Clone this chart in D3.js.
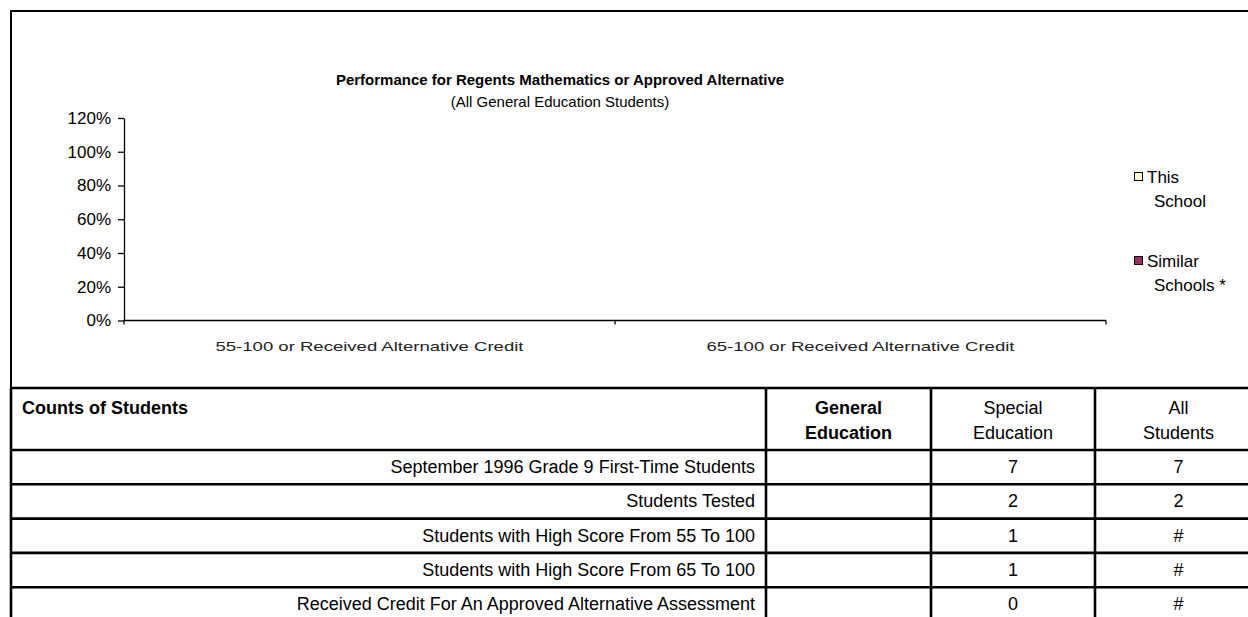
<!DOCTYPE html>
<html>
<head>
<meta charset="utf-8">
<script src="https://cdn.jsdelivr.net/npm/d3@7"></script>
<style>
  body { margin: 0; background: #fff; }
  svg { display: block; font-family: "Liberation Sans", Arial, sans-serif; }
</style>
</head>
<body>
<script>
// chart data (the chart in the report has no bars drawn)
const categories = ["55-100 or Received Alternative Credit", "65-100 or Received Alternative Credit"];
const seriesNames = ["This School", "Similar Schools *"];
const thisSchool = [null, null];
const similarSchools = [null, null];
const seriesColors = ["#ffffcc", "#993366"];
const yTicks = [0, 0.2, 0.4, 0.6, 0.8, 1.0, 1.2];

// table data
const tableTitle = "Counts of Students";
const colHeads = [["General", "Education"], ["Special", "Education"], ["All", "Students"]];
const rowLabels = [
  "September 1996 Grade 9 First-Time Students",
  "Students Tested",
  "Students with High Score From 55 To 100",
  "Students with High Score From 65 To 100",
  "Received Credit For An Approved Alternative Assessment"
];
const generalEd = ["", "", "", "", ""];
const specialEd = ["7", "2", "1", "1", "0"];
const allStudents = ["7", "2", "#", "#", "#"];

const W = 1248, H = 617;
const svg = d3.select("body").append("svg").attr("width", W).attr("height", H);

// outer frame of the chart
svg.append("rect")
  .attr("x", 11).attr("y", 11).attr("width", 1260).attr("height", 377)
  .attr("fill", "none").attr("stroke", "#000").attr("stroke-width", 2);

// titles
svg.append("text").attr("x", 560).attr("y", 85).attr("text-anchor", "middle")
  .attr("font-weight", "bold").attr("font-size", 15)
  .text("Performance for Regents Mathematics or Approved Alternative");
svg.append("text").attr("x", 560).attr("y", 107).attr("text-anchor", "middle")
  .attr("font-size", 15)
  .text("(All General Education Students)");

// scales
const x = d3.scaleBand().domain(categories).range([124, 1106]);
const y = d3.scaleLinear().domain([0, 1.2]).range([320.5, 118]);
const xs = d3.scaleBand().domain(seriesNames).range([0, x.bandwidth()]).padding(0.3);

// y axis
const yAxis = svg.append("g").attr("transform", "translate(124,0)")
  .call(d3.axisLeft(y).tickValues(yTicks).tickFormat(d3.format(".0%")).tickSize(6).tickSizeOuter(0));
yAxis.select(".domain").attr("stroke-width", 1.3);
yAxis.selectAll(".tick line").attr("stroke-width", 1.3);
yAxis.selectAll(".tick text").attr("font-size", 17).attr("x", -13)
  .attr("font-family", "Liberation Sans, Arial, sans-serif").attr("fill", "#000");

// x axis line + ticks at band edges
svg.append("line").attr("x1", 124).attr("x2", 1106).attr("y1", y(0)).attr("y2", y(0))
  .attr("stroke", "#000").attr("stroke-width", 1.3);
const edges = categories.map(c => x(c)).concat([x.range()[1]]);
svg.selectAll(".xtick").data(edges).enter().append("line")
  .attr("x1", d => d).attr("x2", d => d)
  .attr("y1", y(0)).attr("y2", y(0) + 4)
  .attr("stroke", "#000").attr("stroke-width", 1.3);
svg.selectAll(".xlab").data(categories).enter().append("text")
  .attr("x", d => x(d) + x.bandwidth() / 2)
  .attr("y", 351)
  .attr("text-anchor", "middle")
  .attr("font-size", 13)
  .attr("textLength", 308)
  .attr("lengthAdjust", "spacingAndGlyphs")
  .attr("fill", "#222")
  .text(d => d);

// bars (none have values)
[thisSchool, similarSchools].forEach((vals, si) => {
  svg.selectAll(".bar" + si)
    .data(vals.map((v, i) => ({ v, c: categories[i] })).filter(d => d.v != null))
    .enter().append("rect")
    .attr("x", d => x(d.c) + xs(seriesNames[si]))
    .attr("width", xs.bandwidth())
    .attr("y", d => y(d.v))
    .attr("height", d => y(0) - y(d.v))
    .attr("fill", seriesColors[si]).attr("stroke", "#000");
});

// legend
const legendTop = [172, 256];
const legendLines = [["This", "School"], ["Similar", "Schools *"]];
seriesNames.forEach((s, i) => {
  svg.append("rect").attr("x", 1134.5).attr("y", legendTop[i] + 0.5)
    .attr("width", 8).attr("height", 8)
    .attr("fill", seriesColors[i]).attr("stroke", "#000").attr("stroke-width", 1);
  legendLines[i].forEach((t, j) => {
    svg.append("text").attr("x", j === 0 ? 1147 : 1154).attr("y", legendTop[i] + 11 + j * 24)
      .attr("font-size", 17).text(t);
  });
});

// table
const tTop = 388, headH = 62, rowH = 34.3;
const colX = [11, 766, 931, 1095, 1262];
const tableLines = svg.append("g").attr("stroke", "#000").attr("stroke-width", 2.6);
const rowY = d3.range(rowLabels.length + 1).map(i => tTop + headH + i * rowH);
[tTop].concat(rowY).forEach(yy => {
  tableLines.append("line").attr("x1", 11).attr("x2", W).attr("y1", yy).attr("y2", yy);
});
colX.forEach(xx => {
  tableLines.append("line").attr("x1", xx).attr("x2", xx).attr("y1", tTop).attr("y2", H);
});

svg.append("text").attr("x", 22).attr("y", 414).attr("font-size", 18)
  .attr("font-weight", "bold").text(tableTitle);

colHeads.forEach((lines, ci) => {
  const cx = (colX[ci + 1] + colX[ci + 2]) / 2;
  lines.forEach((t, j) => {
    svg.append("text").attr("x", cx).attr("y", 414 + j * 25)
      .attr("text-anchor", "middle").attr("font-size", 18)
      .attr("font-weight", ci === 0 ? "bold" : "normal").text(t);
  });
});

rowLabels.forEach((lab, ri) => {
  const cy = rowY[ri] + rowH / 2 + 6;
  svg.append("text").attr("x", 755).attr("y", cy).attr("text-anchor", "end")
    .attr("font-size", 18).text(lab);
  [generalEd, specialEd, allStudents].forEach((col, ci) => {
    svg.append("text").attr("x", (colX[ci + 1] + colX[ci + 2]) / 2).attr("y", cy)
      .attr("text-anchor", "middle").attr("font-size", 18).text(col[ri]);
  });
});
</script>
</body>
</html>
